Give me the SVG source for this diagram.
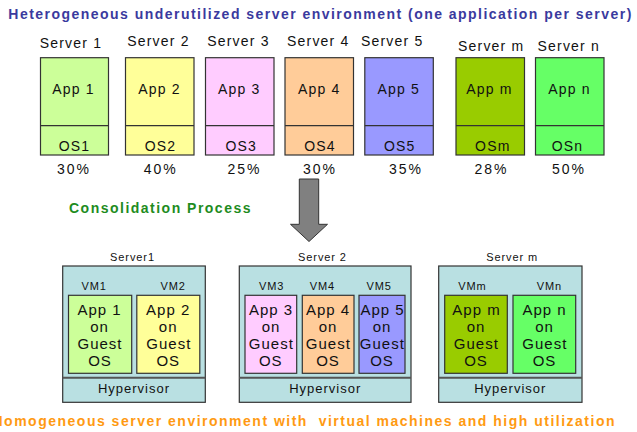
<svg xmlns="http://www.w3.org/2000/svg" width="637" height="432" viewBox="0 0 637 432">
  <style>
    text { font-family: "Liberation Sans", Arial, sans-serif; fill: #111; }
    .title { font-size: 14px; font-weight: bold; fill: #3a3a9e; }
    .sub { font-size: 14px; font-weight: bold; fill: #1e8c1e; letter-spacing: 1.5px; }
    .foot { font-size: 14px; font-weight: bold; fill: #ff9a12; white-space: pre; }
    .lbl { font-size: 14px; letter-spacing: 1.2px; text-anchor: middle; }
    .pct { font-size: 14px; letter-spacing: 2px; text-anchor: middle; }
    .small { font-size: 11px; letter-spacing: 0.9px; text-anchor: middle; }
    .vmt { font-size: 15px; letter-spacing: 1px; text-anchor: middle; }
    .hyp { font-size: 13px; letter-spacing: 1px; text-anchor: middle; }
    .box { stroke: #333; stroke-width: 1.2; }
    .host { fill: #b9e0e2; stroke: #333; stroke-width: 1.2; }
    .div { stroke: #333; stroke-width: 1.2; }
    .hdiv { stroke: #555; stroke-width: 2; }
  </style>

  <!-- headings -->
  <text class="title" x="8.3" y="18.5" textLength="623" lengthAdjust="spacing">Heterogeneous underutilized server environment (one application per server)</text>
  <text class="sub" x="69" y="212.7" textLength="183" lengthAdjust="spacing">Consolidation Process</text>
  <text class="foot" x="-7.5" y="425.5" textLength="622" lengthAdjust="spacing">Homogeneous server environment with  virtual machines and high utilization</text>

  <!-- physical servers, one application each -->
  <g id="server1">
    <text class="lbl" x="71" y="47.5">Server 1</text>
    <rect class="box" x="40.5" y="57.7" width="68" height="97.3" fill="#ccff99"/>
    <line class="div" x1="40.5" y1="125.7" x2="108.5" y2="125.7"/>
    <text class="lbl" x="73.5" y="94">App 1</text>
    <text class="lbl" x="74.5" y="150.5">OS1</text>
    <text class="pct" x="74" y="174">30%</text>
  </g>
  <g id="server2">
    <text class="lbl" x="158.5" y="46">Server 2</text>
    <rect class="box" x="125.5" y="57.7" width="68.5" height="97.3" fill="#ffff99"/>
    <line class="div" x1="125.5" y1="125.7" x2="194" y2="125.7"/>
    <text class="lbl" x="159.5" y="94">App 2</text>
    <text class="lbl" x="160.5" y="150.5">OS2</text>
    <text class="pct" x="160.7" y="174">40%</text>
  </g>
  <g id="server3">
    <text class="lbl" x="238.5" y="46">Server 3</text>
    <rect class="box" x="205.5" y="57.7" width="68.5" height="97.3" fill="#ffccff"/>
    <line class="div" x1="205.5" y1="125.7" x2="274" y2="125.7"/>
    <text class="lbl" x="239.2" y="94">App 3</text>
    <text class="lbl" x="241.2" y="150.5">OS3</text>
    <text class="pct" x="244.5" y="174">25%</text>
  </g>
  <g id="server4">
    <text class="lbl" x="318.3" y="46">Server 4</text>
    <rect class="box" x="285" y="57.7" width="68.5" height="97.3" fill="#ffcc99"/>
    <line class="div" x1="285" y1="125.7" x2="353.5" y2="125.7"/>
    <text class="lbl" x="319.2" y="94">App 4</text>
    <text class="lbl" x="320" y="150.5">OS4</text>
    <text class="pct" x="320" y="174">30%</text>
  </g>
  <g id="server5">
    <text class="lbl" x="392.2" y="46">Server 5</text>
    <rect class="box" x="364.8" y="57.7" width="68.5" height="97.3" fill="#9999ff"/>
    <line class="div" x1="364.8" y1="125.7" x2="433.3" y2="125.7"/>
    <text class="lbl" x="398.8" y="94">App 5</text>
    <text class="lbl" x="399.8" y="150.5">OS5</text>
    <text class="pct" x="406" y="174">35%</text>
  </g>
  <g id="serverm">
    <text class="lbl" x="491.2" y="50.5">Server m</text>
    <rect class="box" x="456" y="57.7" width="68.5" height="97.3" fill="#99cc00"/>
    <line class="div" x1="456" y1="125.7" x2="524.5" y2="125.7"/>
    <text class="lbl" x="489.5" y="94">App m</text>
    <text class="lbl" x="492.8" y="150.5">OSm</text>
    <text class="pct" x="491.5" y="174">28%</text>
  </g>
  <g id="servern">
    <text class="lbl" x="568.8" y="50.5">Server n</text>
    <rect class="box" x="535.5" y="57.7" width="68.5" height="97.3" fill="#66ff66"/>
    <line class="div" x1="535.5" y1="125.7" x2="604" y2="125.7"/>
    <text class="lbl" x="569.5" y="94">App n</text>
    <text class="lbl" x="567.5" y="150.5">OSn</text>
    <text class="pct" x="569" y="174">50%</text>
  </g>

  <!-- consolidation arrow -->
  <g id="connectors">
    <polygon points="299.3,179 318.7,179 318.7,224.3 327.5,224.3 309,241.5 290.5,224.3 299.3,224.3" fill="#808080" stroke="#333" stroke-width="1"/>
  </g>

  <!-- virtualized hosts -->
  <g id="host1">
    <text class="small" x="132.5" y="261">Server1</text>
    <rect class="host" x="62.7" y="266" width="142.6" height="136.3"/>
    <line class="hdiv" x1="62.7" y1="377.7" x2="205.3" y2="377.7"/>
    <text class="small" x="94.2" y="290">VM1</text>
    <text class="small" x="173.2" y="290">VM2</text>
    <rect class="box" x="68.5" y="295.3" width="63.2" height="78" fill="#ccff99"/>
    <text class="vmt" x="99.5" y="314.5">App 1<tspan x="99.5" y="331.6">on</tspan><tspan x="100" y="349.2">Guest</tspan><tspan x="100" y="366">OS</tspan></text>
    <rect class="box" x="136.8" y="295.3" width="63" height="78" fill="#ffff99"/>
    <text class="vmt" x="168.2" y="314.5">App 2<tspan x="168.2" y="331.6">on</tspan><tspan x="168.8" y="349.2">Guest</tspan><tspan x="168.3" y="366">OS</tspan></text>
    <text class="hyp" x="134" y="393.3">Hypervisor</text>
  </g>
  <g id="host2">
    <text class="small" x="322.5" y="261">Server 2</text>
    <rect class="host" x="239.3" y="266" width="171.7" height="136.3"/>
    <line class="hdiv" x1="239.3" y1="377.7" x2="411" y2="377.7"/>
    <text class="small" x="271.7" y="290">VM3</text>
    <text class="small" x="322.4" y="290">VM4</text>
    <text class="small" x="379.2" y="290">VM5</text>
    <rect class="box" x="245" y="295.3" width="51.7" height="78" fill="#ffccff"/>
    <text class="vmt" x="271" y="314.5">App 3<tspan x="271" y="331.6">on</tspan><tspan x="271.3" y="349.2">Guest</tspan><tspan x="270.8" y="366">OS</tspan></text>
    <rect class="box" x="302.3" y="295.3" width="51.7" height="78" fill="#ffcc99"/>
    <text class="vmt" x="328" y="314.5">App 4<tspan x="328" y="331.6">on</tspan><tspan x="328.3" y="349.2">Guest</tspan><tspan x="328" y="366">OS</tspan></text>
    <rect class="box" x="359" y="295.3" width="46" height="78" fill="#9999ff"/>
    <text class="vmt" x="382.5" y="314.5">App 5<tspan x="382" y="331.6">on</tspan><tspan x="382.3" y="349.2">Guest</tspan><tspan x="382" y="366">OS</tspan></text>
    <text class="hyp" x="325.2" y="393.3">Hypervisor</text>
  </g>
  <g id="hostm">
    <text class="small" x="512.2" y="261">Server m</text>
    <rect class="host" x="438.7" y="266" width="143.3" height="136.3"/>
    <line class="hdiv" x1="438.7" y1="377.7" x2="582" y2="377.7"/>
    <text class="small" x="472.4" y="290">VMm</text>
    <text class="small" x="549.4" y="290">VMn</text>
    <rect class="box" x="444.7" y="295.3" width="62.6" height="78" fill="#99cc00"/>
    <text class="vmt" x="476.5" y="314.5">App m<tspan x="476" y="331.6">on</tspan><tspan x="476.3" y="349.2">Guest</tspan><tspan x="476" y="366">OS</tspan></text>
    <rect class="box" x="513" y="295.3" width="62.7" height="78" fill="#66ff66"/>
    <text class="vmt" x="544.5" y="314.5">App n<tspan x="544.5" y="331.6">on</tspan><tspan x="544.8" y="349.2">Guest</tspan><tspan x="544.5" y="366">OS</tspan></text>
    <text class="hyp" x="510.3" y="393.3">Hypervisor</text>
  </g>
</svg>
